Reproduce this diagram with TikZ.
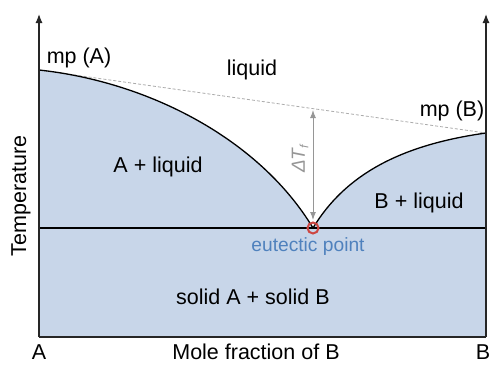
\documentclass[tikz,border=0pt]{standalone}
\usepackage{fontspec}
\setmainfont{Liberation Sans}
\usetikzlibrary{arrows.meta}
\definecolor{fillblue}{RGB}{200,214,233}
\definecolor{eublue}{RGB}{79,129,189}
\definecolor{eured}{RGB}{205,70,65}
\definecolor{dgray}{RGB}{150,150,150}
\begin{document}
\begin{tikzpicture}[x=1pt,y=-1pt,
  lbl/.style={font=\fontsize{21.5}{25}\selectfont, inner sep=0pt},
  curve/.style={black, line width=1.3pt},
  axisline/.style={black!85, line width=1.2pt},
  axisarrow/.style={axisline, -{Latex[length=9pt,width=7pt]}},
  ref/.style={dgray!80, line width=0.8pt, dash pattern=on 3pt off 2pt},
  dtarrow/.style={dgray, line width=1pt, {Latex[length=8pt,width=6pt]}-{Latex[length=8pt,width=6pt]}}]
\useasboundingbox (0,0) rectangle (491,365);
\coordinate (mpA) at (39,70);
\coordinate (mpB) at (486,133);
\coordinate (eu) at (313,228);
\coordinate (el) at (39,228);
\coordinate (er) at (486,228);
\coordinate (bl) at (39,337);
\coordinate (br) at (486,337);
\coordinate (tl) at (39,14);
\coordinate (tr) at (486,14);
\coordinate (dtTop) at (313,110);
\coordinate (dtBot) at (313,220);
% filled region
\fill[fillblue] (mpA) .. controls (150,82) and (260,140) .. (eu)
  .. controls (345,175) and (400,145) .. (mpB) -- (br) -- (bl) -- cycle;
% reference dashed line
\draw[ref] (mpA) -- (mpB);
% liquidus curves
\draw[curve] (mpA) .. controls (150,82) and (260,140) .. (eu)
  .. controls (345,175) and (400,145) .. (mpB);
% eutectic line and bottom
\draw[curve] (el) -- (er);
\draw[axisline] (bl) -- (br);
% axes
\draw[axisarrow] (bl) -- (tl);
\draw[axisarrow] (br) -- (tr);
% Delta T arrow
\draw[dtarrow] (dtTop) -- (dtBot);
% eutectic point
\node[draw=eured, line width=2pt, circle, minimum size=11pt, inner sep=0pt] (eupt) at (eu) {};
% labels
\node[lbl] (lmpA) at (79,58) {mp (A)};
\node[lbl] (lliq) at (252,70) {liquid};
\node[lbl] (lmpB) at (452,111) {mp (B)};
\node[lbl] (lAl) at (158,167) {A + liquid};
\node[lbl] (lBl) at (419,203) {B + liquid};
\node[lbl, text=eublue, font=\fontsize{19.2}{22}\selectfont] (leu) at (308,247) {eutectic point};
\node[lbl] (lsol) at (253,297) {solid A + solid B};
\node[lbl, anchor=base] (lA) at (39,359) {A};
\node[lbl, anchor=base] (lmole) at (256,359) {Mole fraction of B};
\node[lbl, anchor=base] (lB) at (483,359) {B};
\node[lbl, rotate=90] (ltemp) at (21,196) {Temperature};
\node[lbl, rotate=90, text=dgray, font=\fontsize{19}{22}\selectfont] (ldt) at (300,159) {\itshape ΔT\raisebox{-0.35ex}{\fontsize{12}{14}\selectfont f}};
\end{tikzpicture}
\end{document}
